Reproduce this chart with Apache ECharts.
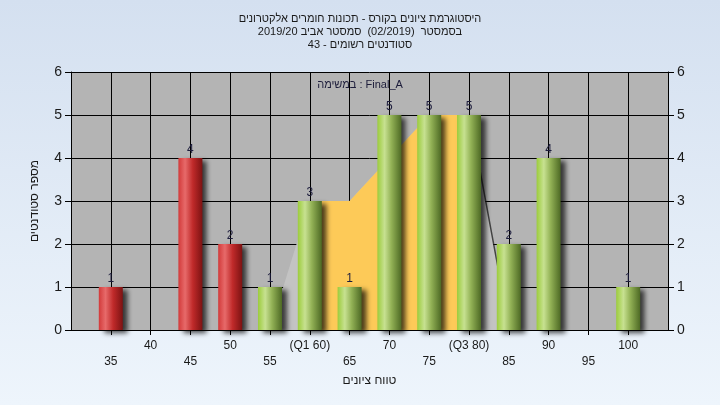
<!DOCTYPE html>
<html><head><meta charset="utf-8">
<script src="https://cdn.jsdelivr.net/npm/echarts@6/dist/echarts.min.js"></script>
<style>html,body{margin:0;padding:0;background:#fff}#c{width:720px;height:405px;}</style>
</head><body><div id="c"></div>
<script>
// ---- data ----
const titleLines = [
  'היסטוגרמת ציונים בקורס - תכונות חומרים אלקטרונים',
  'בסמסטר  (02/2019)  סמסטר אביב 2019/20',
  'סטודנטים רשומים - 43'
];
const legendText = 'במשימה : Final_A';
const xAxisTitle = 'טווח ציונים';
const yAxisTitle = 'מספר סטודנטים';
const bins = [35, 40, 45, 50, 55, 60, 65, 70, 75, 80, 85, 90, 95, 100];
const counts = [1, 0, 4, 2, 1, 3, 1, 5, 5, 5, 2, 4, 0, 1];
const passMark = 55;
const tickValues = [35, 40, 45, 50, 55, 60, 65, 70, 75, 80, 85, 90, 95, 100];
const tickLabels = ['35', '40', '45', '50', '55', '(Q1 60)', '65', '70', '75', '(Q3 80)', '85', '90', '95', '100'];
const q1 = 60, q3 = 80;
const curveX = [55, 60, 65, 70, 75, 80, 85];
const curveY = [0, 3, 3, 4, 5, 5, 0];
const yTicks = [0, 1, 2, 3, 4, 5, 6];

// ---- styles ----
const FONT = "'Liberation Sans', Arial, 'DejaVu Sans', sans-serif";
const G = echarts.graphic.LinearGradient;
const redGrad = new G(0, 0, 1, 0, [
  {offset: 0, color: '#d23a3a'}, {offset: 0.28, color: '#e76a6a'},
  {offset: 0.6, color: '#c02a2a'}, {offset: 1, color: '#7c1212'}]);
const greenGrad = new G(0, 0, 1, 0, [
  {offset: 0, color: '#9ccc3c'}, {offset: 0.3, color: '#c7e191'},
  {offset: 0.58, color: '#93b256'}, {offset: 1, color: '#4d6924'}]);

const barData = [];
bins.forEach((b, i) => {
  if (counts[i] > 0) barData.push({value: [b, counts[i]], itemStyle: {color: b < passMark ? redGrad : greenGrad}});
});
const grayArea = curveX.map((x, i) => [x, curveY[i]]);
const orangeArea = curveX.map((x, i) => [x, curveY[i]]).filter(p => p[0] >= q1 && p[0] <= q3);

const chart = echarts.init(document.getElementById('c'));
chart.setOption({
  animation: false,
  backgroundColor: new G(0, 0, 0, 1, [{offset: 0, color: '#d4e0f0'}, {offset: 1, color: '#eef5fc'}]),
  textStyle: {fontFamily: FONT},
  title: [
    {text: titleLines.join('\n'), left: 'center', top: 12, padding: 0,
     textStyle: {fontSize: 11, lineHeight: 13, fontWeight: 'normal', color: '#1a1a1a', fontFamily: FONT}},
    {text: legendText, left: 'center', top: 78, padding: 0,
     textStyle: {fontSize: 11, lineHeight: 14, fontWeight: 'normal', color: '#1c1c3a', fontFamily: FONT}}
  ],
  grid: {left: 71, right: 52, top: 72, bottom: 75, show: true, backgroundColor: '#b4b4b4', borderWidth: 0},
  xAxis: {
    type: 'value', min: 30, max: 105, interval: 5,
    name: xAxisTitle, nameLocation: 'middle', nameGap: 44,
    nameTextStyle: {fontSize: 12, color: '#1a1a1a', fontFamily: FONT},
    axisLine: {lineStyle: {color: '#000', width: 1}},
    axisTick: {show: true, length: 5, lineStyle: {color: '#000'}},
    splitLine: {show: true, lineStyle: {color: '#000', width: 1}},
    axisLabel: {
      margin: 8, fontSize: 12, lineHeight: 16, color: '#1a1a1a', fontFamily: FONT,
      showMinLabel: false, showMaxLabel: false,
      formatter: v => {
        const i = tickValues.indexOf(v);
        if (i < 0) return '';
        return (v / 5) % 2 === 1 ? '\n' + tickLabels[i] : tickLabels[i];
      }
    }
  },
  yAxis: [
    {type: 'value', min: 0, max: 6, interval: 1, position: 'left',
     name: yAxisTitle, nameLocation: 'middle', nameGap: 30, nameRotate: 90,
     nameTextStyle: {fontSize: 12, color: '#1a1a1a', fontFamily: FONT},
     axisLine: {show: true, lineStyle: {color: '#000'}},
     axisTick: {show: true, length: 6, lineStyle: {color: '#000'}},
     splitLine: {show: true, lineStyle: {color: '#000', width: 1}},
     axisLabel: {margin: 9, fontSize: 14, color: '#1a1a1a', fontFamily: FONT,
       formatter: v => yTicks.includes(v) ? String(v) : ''}},
    {type: 'value', min: 0, max: 6, interval: 1, position: 'right',
     axisLine: {show: true, lineStyle: {color: '#000'}},
     axisTick: {show: true, length: 6, lineStyle: {color: '#000'}},
     splitLine: {show: false},
     axisLabel: {margin: 9, fontSize: 14, color: '#1a1a1a', fontFamily: FONT,
       formatter: v => yTicks.includes(v) ? String(v) : ''}}
  ],
  series: [
    {type: 'line', data: grayArea, z: 1, symbol: 'none', silent: true,
     lineStyle: {width: 0, opacity: 0},
     areaStyle: {color: '#c3c3c3', opacity: 1, shadowColor: 'rgba(30,30,30,0.75)', shadowBlur: 0, shadowOffsetX: 1.5}},
    {type: 'line', data: orangeArea, z: 2, symbol: 'none', silent: true,
     lineStyle: {width: 0, opacity: 0},
     areaStyle: {color: '#fdca58', opacity: 1}},
    {type: 'bar', data: barData, z: 3, barWidth: 24,
     itemStyle: {shadowColor: 'rgba(0,0,0,0.7)', shadowBlur: 5, shadowOffsetX: 5, shadowOffsetY: 3},
     label: {show: true, position: 'top', distance: 2, fontSize: 12, color: '#1c1c3c', fontFamily: FONT,
       formatter: p => p.value[1] > 0 ? String(p.value[1]) : ''}}
  ]
});
</script></body></html>
